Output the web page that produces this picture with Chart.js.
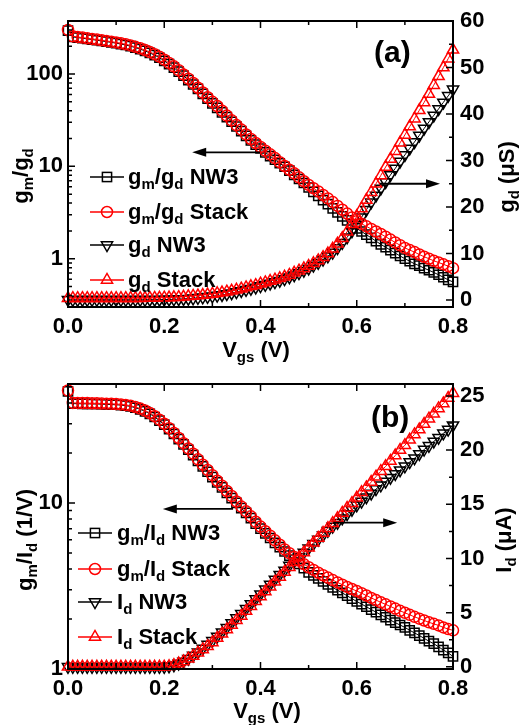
<!DOCTYPE html>
<html><head><meta charset="utf-8">
<script src="https://cdn.jsdelivr.net/npm/chart.js@4.4.1/dist/chart.umd.min.js"></script>
<style>
html,body{margin:0;padding:0;background:#fff;}
#wrap{position:relative;width:520px;height:725px;overflow:hidden;background:#fff;font-family:'Liberation Sans',Arial,sans-serif;font-weight:bold;color:#000;}
canvas{position:absolute;left:0;}
.t{position:absolute;font-size:22px;line-height:22px;white-space:nowrap;font-weight:bold;}
.t sub{font-size:15px;position:relative;top:5px;vertical-align:baseline;line-height:0;}
.rot{transform:translate(-50%,-50%) rotate(-90deg);}
.ctr{transform:translateX(-50%);}
.big{font-size:30px;line-height:30px;}
svg.mk{position:absolute;overflow:visible;}
</style></head>
<body><div id="wrap">
<canvas id="ca" width="520" height="362" style="top:0px"></canvas>
<canvas id="cb" width="520" height="362" style="top:363px"></canvas>

<div class="t big" style="left:374px;top:37px;">(a)</div>
<div class="t big" style="left:371px;top:402px;">(b)</div>

<div class="t rot" style="left:21px;top:176px;">g<sub>m</sub>/g<sub>d</sub></div>
<div class="t rot" style="left:507px;top:177px;">g<sub>d</sub> (μS)</div>
<div class="t ctr" style="left:256px;top:339px;">V<sub>gs</sub> (V)</div>

<div class="t rot" style="left:25px;top:540px;">g<sub>m</sub>/I<sub>d</sub> (1/V)</div>
<div class="t rot" style="left:504px;top:540px;">I<sub>d</sub> (μA)</div>
<div class="t ctr" style="left:267px;top:700px;">V<sub>gs</sub> (V)</div>

<div id="lga"></div>
<div id="lgb"></div>
</div>
<script>
// ---------- data ----------
const vgs = [0.00,0.01,0.02,0.03,0.04,0.05,0.06,0.07,0.08,0.09,0.10,0.11,0.12,0.13,0.14,0.15,0.16,0.17,0.18,0.19,0.20,0.21,0.22,0.23,0.24,0.25,0.26,0.27,0.28,0.29,0.30,0.31,0.32,0.33,0.34,0.35,0.36,0.37,0.38,0.39,0.40,0.41,0.42,0.43,0.44,0.45,0.46,0.47,0.48,0.49,0.50,0.51,0.52,0.53,0.54,0.55,0.56,0.57,0.58,0.59,0.60,0.61,0.62,0.63,0.64,0.65,0.66,0.67,0.68,0.69,0.70,0.71,0.72,0.73,0.74,0.75,0.76,0.77,0.78,0.79,0.80];

// panel (a): gm/gd (left, log) and gd in uS (right)
const gmgdNW3 = [295,252,248,244,240,236,232,228,224,220,216,211,206,200,193,186,178,169,160,150,139,128,117,106,96,86,77,69,61,54,48,43,38.5,34.2,30.4,27,24.1,21.4,19.1,17.2,15.6,14.2,12.9,11.8,10.8,9.9,9.0,8.1,7.3,6.6,5.9,5.3,4.8,4.3,3.9,3.5,3.18,2.88,2.6,2.36,2.13,1.97,1.82,1.68,1.55,1.43,1.33,1.24,1.15,1.07,1.0,0.94,0.88,0.84,0.79,0.75,0.71,0.67,0.63,0.59,0.56];
const gmgdStack = [300,256,252,248,244,240,236,232,228,224,220,215,210,204,197,190,182,173,164,154,143,132,121,110,99,89,80,71,63,56,50,45,40,35.5,31.5,28,25,22.2,19.8,17.9,16.2,14.8,13.5,12.3,11.1,10.1,9.2,8.4,7.6,6.9,6.3,5.8,5.35,4.9,4.5,4.1,3.73,3.39,3.08,2.8,2.55,2.39,2.24,2.1,1.97,1.85,1.73,1.61,1.5,1.4,1.31,1.24,1.18,1.11,1.05,1.0,0.95,0.91,0.87,0.83,0.79];
const gdNW3 = [0.05,0.05,0.05,0.05,0.05,0.05,0.05,0.05,0.05,0.05,0.05,0.05,0.05,0.05,0.05,0.05,0.05,0.06,0.07,0.08,0.1,0.12,0.15,0.19,0.24,0.3,0.38,0.47,0.57,0.68,0.8,0.95,1.1,1.27,1.48,1.7,1.95,2.2,2.45,2.72,3.0,3.28,3.56,3.86,4.17,4.5,4.9,5.35,5.8,6.3,6.8,7.4,8.0,8.7,9.4,10.2,11.2,12.3,13.5,14.8,16.2,17.8,19.4,21.0,22.5,24.0,25.4,26.9,28.3,29.8,31.2,32.6,34.0,35.4,36.9,38.3,39.7,41.1,42.5,43.9,45.3];
const gdStack = [0.4,0.4,0.4,0.4,0.4,0.4,0.4,0.4,0.4,0.4,0.4,0.4,0.4,0.4,0.4,0.4,0.42,0.44,0.46,0.48,0.5,0.53,0.57,0.62,0.7,0.8,0.88,0.97,1.07,1.18,1.3,1.45,1.6,1.78,1.98,2.2,2.45,2.7,2.95,3.2,3.5,3.78,4.07,4.37,4.68,5.0,5.4,5.85,6.3,6.8,7.3,7.9,8.5,9.2,10.0,11.0,12.1,13.3,14.7,16.3,18.0,19.7,21.5,23.2,25.0,26.8,28.6,30.3,32.0,33.8,35.5,37.3,39.0,40.8,42.5,44.3,46.2,48.1,50.0,51.9,53.8];

// panel (b): gm/Id in 1/V (left, log) and Id in uA (right)
const gmIdNW3 = [47,39.6,39.6,39.5,39.5,39.4,39.4,39.3,39.2,39.1,39.0,38.8,38.5,38.1,37.4,36.6,35.6,34.4,32.9,31.3,29.6,27.8,26.0,24.2,22.5,20.9,19.4,17.9,16.6,15.4,14.3,13.3,12.4,11.5,10.7,10.0,9.3,8.7,8.1,7.5,7.0,6.55,6.15,5.75,5.42,5.1,4.82,4.55,4.3,4.05,3.82,3.66,3.51,3.37,3.23,3.1,2.98,2.87,2.76,2.65,2.55,2.46,2.37,2.28,2.2,2.12,2.05,1.97,1.9,1.84,1.78,1.71,1.65,1.59,1.53,1.47,1.42,1.36,1.3,1.25,1.19];
const gmIdStack = [47.5,40.0,40.0,39.9,39.9,39.8,39.8,39.7,39.6,39.5,39.4,39.2,38.9,38.5,37.8,37.0,36.0,34.8,33.3,31.7,30.0,28.2,26.4,24.6,22.9,21.3,19.8,18.3,17.0,15.8,14.7,13.6,12.7,11.8,11.0,10.2,9.5,8.9,8.3,7.7,7.2,6.75,6.35,5.95,5.6,5.25,4.98,4.73,4.5,4.28,4.1,3.95,3.8,3.67,3.55,3.43,3.32,3.22,3.12,3.03,2.95,2.86,2.77,2.68,2.6,2.52,2.45,2.38,2.31,2.24,2.18,2.12,2.06,2.01,1.96,1.91,1.87,1.83,1.78,1.74,1.71];
const idNW3 = [0,0,0,0,0,0,0,0,0,0,0,0,0,0,0,0,0,0,0,0,0,0.05,0.15,0.3,0.5,0.75,1.05,1.35,1.7,2.05,2.4,2.8,3.2,3.6,4.05,4.5,4.9,5.35,5.8,6.25,6.7,7.15,7.6,8.05,8.5,8.9,9.35,9.75,10.15,10.55,10.95,11.35,11.75,12.15,12.55,12.95,13.3,13.7,14.1,14.5,14.9,15.25,15.65,16.0,16.4,16.75,17.1,17.45,17.8,18.15,18.5,18.9,19.25,19.65,20.05,20.4,20.8,21.15,21.55,21.9,22.3];
const idStack = [0,0,0,0,0,0,0,0,0,0,0,0,0,0,0,0,0,0,0,0,0,0.05,0.15,0.3,0.5,0.75,1.0,1.3,1.6,1.9,2.25,2.65,3.05,3.45,3.85,4.3,4.7,5.15,5.6,6.05,6.5,6.95,7.4,7.85,8.3,8.75,9.2,9.65,10.1,10.55,11.0,11.45,11.9,12.35,12.8,13.25,13.7,14.2,14.65,15.1,15.6,16.1,16.55,17.05,17.55,18.05,18.5,19.0,19.5,20.0,20.45,20.95,21.45,21.9,22.4,22.9,23.35,23.85,24.3,24.8,25.25];

// tick labels
const xTicks = [0.0,0.2,0.4,0.6,0.8];
const xMinorTicks = [0.1,0.3,0.5,0.7];
const gmgdTicks = [1,10,100];
const gmgdMinor = [0.4,0.5,0.6,0.7,0.8,0.9,2,3,4,5,6,7,8,9,20,30,40,50,60,70,80,90,200,300];
const gdTicks = [0,10,20,30,40,50,60];
const gdMinor = [5,15,25,35,45,55];
const gmIdTicks = [1,10];
const gmIdMinor = [2,3,4,5,6,7,8,9,20,30,40,50];
const idTicks = [0,5,10,15,20,25];
const idMinor = [2.5,7.5,12.5,17.5,22.5];

// legend labels
const legendA = ['g<sub>m</sub>/g<sub>d</sub> NW3','g<sub>m</sub>/g<sub>d</sub> Stack','g<sub>d</sub> NW3','g<sub>d</sub> Stack'];
const legendB = ['g<sub>m</sub>/I<sub>d</sub> NW3','g<sub>m</sub>/I<sub>d</sub> Stack','I<sub>d</sub> NW3','I<sub>d</sub> Stack'];

// ---------- drawing ----------
const FONT = "'Liberation Sans', Arial, sans-serif";
const RED = '#ff0000', BLK = '#000000';
const tickFont = {family: FONT, size: 22, weight: 'bold'};

function pts(ys){ return vgs.map((x,i)=>({x:x, y:ys[i]})); }
function ds(label, ys, color, style, rot, axis, order, r){
  return {label, data: pts(ys), yAxisID: axis, borderColor: color, backgroundColor: 'rgba(0,0,0,0)',
    pointBackgroundColor: 'rgba(0,0,0,0)', pointBorderColor: color, pointStyle: style, pointRotation: rot,
    pointRadius: r, pointBorderWidth: 1.5, borderWidth: 1, showLine: true, tension: 0, order, clip: 8};
}

const decor = {
  id: 'decor',
  afterDatasetsDraw(chart, args, o){
    const {ctx, chartArea: a, scales} = chart;
    const x = scales.x, yl = scales.yl, yr = scales.yr;
    ctx.save();
    ctx.strokeStyle = '#000'; ctx.lineWidth = 1.5;
    ctx.beginPath();
    const MJ = 7, MN = 4;
    function vx(v, len){ const p = x.getPixelForValue(v); ctx.moveTo(p, a.bottom); ctx.lineTo(p, a.bottom - len); ctx.moveTo(p, a.top); ctx.lineTo(p, a.top + len); }
    o.xMajor.forEach(v=>vx(v, MJ)); o.xMinor.forEach(v=>vx(v, MN));
    function hl(v, len){ const p = yl.getPixelForValue(v); if(p<a.top-0.5||p>a.bottom+0.5) return; ctx.moveTo(a.left, p); ctx.lineTo(a.left + len, p); }
    o.lMajor.forEach(v=>hl(v, MJ)); o.lMinor.forEach(v=>hl(v, MN));
    function hr(v, len){ const p = yr.getPixelForValue(v); if(p<a.top-0.5||p>a.bottom+0.5) return; ctx.moveTo(a.right, p); ctx.lineTo(a.right - len, p); }
    o.rMajor.forEach(v=>hr(v, MJ)); o.rMinor.forEach(v=>hr(v, MN));
    ctx.stroke();
    ctx.lineWidth = 2;
    ctx.strokeRect(a.left, a.top, a.right - a.left, a.bottom - a.top);
    // arrows
    ctx.lineWidth = 1.8; ctx.fillStyle = '#000';
    o.arrows.forEach(ar=>{
      const sc = ar.axis === 'yl' ? yl : yr;
      const x1 = x.getPixelForValue(ar.from), x2 = x.getPixelForValue(ar.to), y = sc.getPixelForValue(ar.y);
      const dir = Math.sign(x2 - x1);
      ctx.beginPath(); ctx.moveTo(x1, y); ctx.lineTo(x2 - dir*10, y); ctx.stroke();
      ctx.beginPath(); ctx.moveTo(x2, y); ctx.lineTo(x2 - dir*14, y - 4.5); ctx.lineTo(x2 - dir*14, y + 4.5); ctx.closePath(); ctx.fill();
    });
    ctx.restore();
  }
};

function makeChart(id, cfg){
  return new Chart(document.getElementById(id), {
    type: 'line',
    data: {datasets: cfg.datasets},
    options: {
      responsive: false, animation: false, events: [],
      layout: {padding: {top: 21, left: 0, right: 0, bottom: 0}},
      plugins: {legend: {display: false}, tooltip: {enabled: false}, decor: cfg.decor},
      scales: {
        x: {type: 'linear', min: 0, max: 0.8, position: 'bottom',
          afterBuildTicks: s => { s.ticks = xTicks.map(v=>({value: v})); },
          afterFit: s => { s.height = cfg.xh; },
          grid: {display: false, drawTicks: false}, border: {display: false},
          ticks: {font: tickFont, color: '#000', padding: 7, autoSkip: false, maxRotation: 0, callback: v => Number(v).toFixed(1)}},
        yl: {type: 'logarithmic', position: 'left', min: cfg.lmin, max: cfg.lmax,
          afterBuildTicks: s => { s.ticks = cfg.lTicks.map(v=>({value: v})); },
          afterFit: s => { s.width = 68; },
          grid: {display: false, drawTicks: false}, border: {display: false},
          ticks: {font: tickFont, color: '#000', padding: 5, autoSkip: false, callback: v => String(v)}},
        yr: {type: 'linear', position: 'right', min: cfg.rmin, max: cfg.rmax,
          afterBuildTicks: s => { s.ticks = cfg.rTicks.map(v=>({value: v})); },
          afterFit: s => { s.width = 67; },
          grid: {display: false, drawTicks: false}, border: {display: false},
          ticks: {font: tickFont, color: '#000', padding: 7, autoSkip: false, callback: v => String(v)}}
      }
    },
    plugins: [decor]
  });
}

makeChart('ca', {
  xh: 55, lmin: 0.34, lmax: 375, rmin: -1.5, rmax: 60, lTicks: gmgdTicks, rTicks: gdTicks,
  datasets: [
    ds('gm/gd Stack', gmgdStack, RED, 'circle', 0, 'yl', 0, 5.5),
    ds('gd Stack', gdStack, RED, 'triangle', 0, 'yr', 1, 6.5),
    ds('gm/gd NW3', gmgdNW3, BLK, 'rect', 0, 'yl', 2, 6.5),
    ds('gd NW3', gdNW3, BLK, 'triangle', 180, 'yr', 3, 6.5)
  ],
  decor: {xMajor: xTicks, xMinor: xMinorTicks, lMajor: gmgdTicks, lMinor: gmgdMinor, rMajor: gdTicks, rMinor: gdMinor,
    arrows: [{from: 0.399, to: 0.258, y: 14.2, axis: 'yl'}, {from: 0.648, to: 0.773, y: 25, axis: 'yr'}]}
});

makeChart('cb', {
  xh: 56, lmin: 1, lmax: 52, rmin: -0.2, rmax: 26.1, lTicks: gmIdTicks, rTicks: idTicks,
  datasets: [
    ds('gm/Id Stack', gmIdStack, RED, 'circle', 0, 'yl', 0, 5.5),
    ds('Id Stack', idStack, RED, 'triangle', 0, 'yr', 1, 6.5),
    ds('gm/Id NW3', gmIdNW3, BLK, 'rect', 0, 'yl', 2, 6.5),
    ds('Id NW3', idNW3, BLK, 'triangle', 180, 'yr', 3, 6.5)
  ],
  decor: {xMajor: xTicks, xMinor: xMinorTicks, lMajor: gmIdTicks, lMinor: gmIdMinor, rMajor: idTicks, rMinor: idMinor,
    arrows: [{from: 0.343, to: 0.197, y: 9.2, axis: 'yl'}, {from: 0.551, to: 0.684, y: 13.3, axis: 'yr'}]}
});

// ---------- HTML legends ----------
function marker(kind, color){
  const c = 'stroke="'+color+'" stroke-width="1.5" fill="none"';
  if(kind==='sq') return '<rect x="12.4" y="3.4" width="9.2" height="9.2" '+c+'/>';
  if(kind==='ci') return '<circle cx="17" cy="8" r="5.5" '+c+'/>';
  if(kind==='dn') return '<polygon points="11.4,4.8 22.6,4.8 17,14.5" '+c+'/>';
  return '<polygon points="11.4,11.2 22.6,11.2 17,1.5" '+c+'/>';
}
function legend(elId, labels, rows, lineX, textX){
  const kinds = [['sq',BLK],['ci',RED],['dn',BLK],['up',RED]];
  let h = '';
  labels.forEach((lab,i)=>{
    const y = rows[i];
    const [k,col] = kinds[i];
    h += '<svg class="mk" width="34" height="16" style="left:'+lineX+'px;top:'+(y-8)+'px"><line x1="0" y1="8" x2="34" y2="8" stroke="'+col+'" stroke-width="1.5"/>'+marker(k,col)+'</svg>';
    h += '<div class="t" style="left:'+textX+'px;top:'+(y-11)+'px">'+lab+'</div>';
  });
  document.getElementById(elId).innerHTML = h;
}
legend('lga', legendA, [177,212,245,280], 90, 128);
legend('lgb', legendB, [533,569,602,637], 78, 117);
</script>
</body></html>
